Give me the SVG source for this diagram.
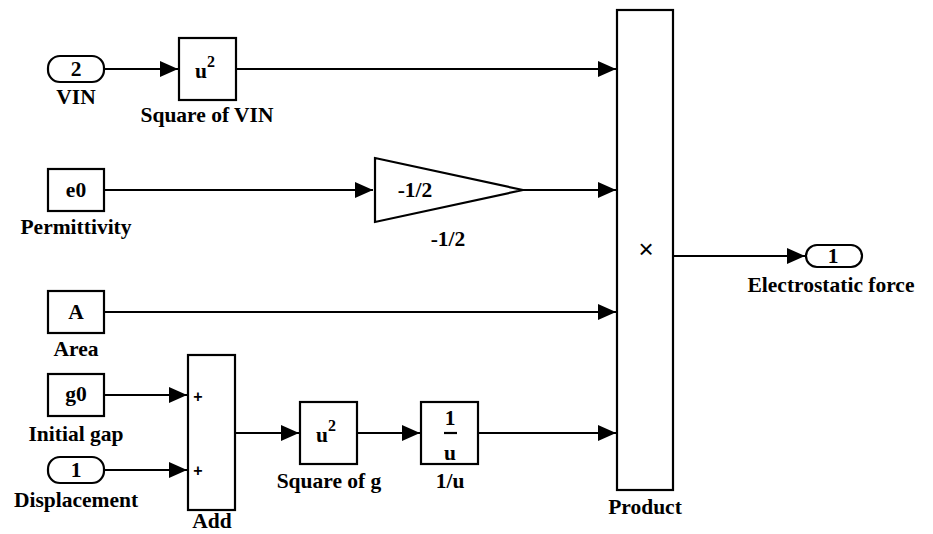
<svg xmlns="http://www.w3.org/2000/svg" width="933" height="534" viewBox="0 0 933 534">
<style>
.blk{fill:#fff;stroke:#000;stroke-width:2.2}
.ln{fill:none;stroke:#000;stroke-width:2.2}
.t{font-family:"Liberation Serif","Times New Roman",serif;font-weight:bold;font-size:21.5px;fill:#000;text-anchor:middle}
.s{font-family:"Liberation Serif","Times New Roman",serif;font-weight:bold;font-size:16px;fill:#000}
.p{font-family:"Liberation Sans",Arial,sans-serif;font-weight:bold;font-size:16px;fill:#000;text-anchor:middle}
</style>
<defs>
<marker id="ah" markerUnits="userSpaceOnUse" markerWidth="18" markerHeight="16" refX="18" refY="8" orient="auto">
<path d="M0,0 L18,8 L0,16 Z" fill="#000"/>
</marker>
</defs>
<rect width="933" height="534" fill="#fff"/>
<g id="connectors">
<path class="ln" d="M104,69 H178" marker-end="url(#ah)"/>
<path class="ln" d="M236,69 H616" marker-end="url(#ah)"/>
<path class="ln" d="M104,190 H373" marker-end="url(#ah)"/>
<path class="ln" d="M523,190 H616" marker-end="url(#ah)"/>
<path class="ln" d="M104,312 H616" marker-end="url(#ah)"/>
<path class="ln" d="M104,395 H187" marker-end="url(#ah)"/>
<path class="ln" d="M104,470 H187" marker-end="url(#ah)"/>
<path class="ln" d="M236,433 H299" marker-end="url(#ah)"/>
<path class="ln" d="M357,433 H420" marker-end="url(#ah)"/>
<path class="ln" d="M478,433 H616" marker-end="url(#ah)"/>
<path class="ln" d="M674,256 H805" marker-end="url(#ah)"/>
</g>
<g id="vin">
<rect class="blk" x="48" y="56" width="56" height="26" rx="12" ry="12"/>
<text class="t" x="76" y="76">2</text>
<text class="t" x="76" y="104">VIN</text>
</g>
<g id="square-of-vin">
<rect class="blk" x="179" y="38" width="57" height="62"/>
<text class="t" x="201" y="78">u</text>
<text class="s" x="207" y="67">2</text>
<text class="t" x="207" y="122">Square of VIN</text>
</g>
<g id="permittivity">
<rect class="blk" x="48" y="169" width="56" height="42"/>
<text class="t" x="76" y="197">e0</text>
<text class="t" x="76" y="234">Permittivity</text>
</g>
<g id="gain">
<path class="blk" d="M375,158 L523,190 L375,222 Z"/>
<text class="t" x="415" y="197">-1/2</text>
<text class="t" x="448" y="246">-1/2</text>
</g>
<g id="area">
<rect class="blk" x="48" y="291" width="56" height="42"/>
<text class="t" x="76" y="319">A</text>
<text class="t" x="76" y="356">Area</text>
</g>
<g id="initial-gap">
<rect class="blk" x="48" y="374" width="56" height="42"/>
<text class="t" x="76" y="401">g0</text>
<text class="t" x="76" y="441">Initial gap</text>
</g>
<g id="displacement">
<rect class="blk" x="48" y="457" width="56" height="26" rx="12" ry="12"/>
<text class="t" x="76" y="477">1</text>
<text class="t" x="76" y="507">Displacement</text>
</g>
<g id="add">
<rect class="blk" x="188" y="355" width="47" height="155"/>
<text class="p" x="198" y="402">+</text>
<text class="p" x="198" y="476">+</text>
<text class="t" x="212" y="528">Add</text>
</g>
<g id="square-of-g">
<rect class="blk" x="300" y="402" width="57" height="62"/>
<text class="t" x="322" y="442">u</text>
<text class="s" x="328" y="431">2</text>
<text class="t" x="329" y="488">Square of g</text>
</g>
<g id="reciprocal">
<rect class="blk" x="421" y="402" width="57" height="62"/>
<text class="t" x="450" y="425">1</text>
<path class="ln" d="M444,433 H457"/>
<text class="t" x="450" y="460">u</text>
<text class="t" x="450" y="488">1/u</text>
</g>
<g id="product">
<rect class="blk" x="617" y="10" width="56" height="480"/>
<text x="646" y="258" font-family="'Liberation Sans',Arial,sans-serif" font-size="26" text-anchor="middle">×</text>
<text class="t" x="645" y="514">Product</text>
</g>
<g id="electrostatic-force">
<rect class="blk" x="806" y="245" width="56" height="22" rx="11" ry="11"/>
<text class="t" x="833" y="263">1</text>
<text class="t" x="831" y="292">Electrostatic force</text>
</g>
</svg>
